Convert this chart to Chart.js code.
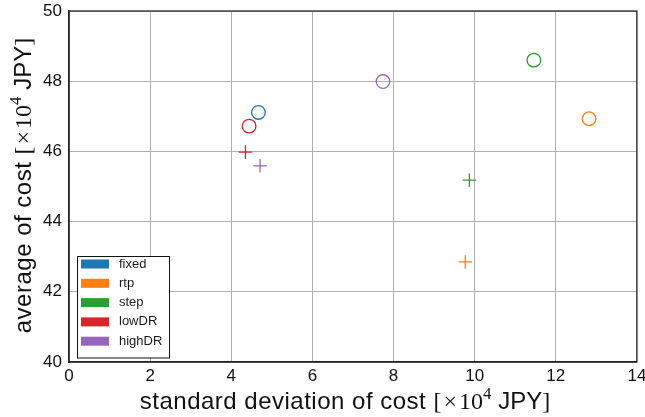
<!DOCTYPE html>
<html>
<head>
<meta charset="utf-8">
<script src="https://cdn.jsdelivr.net/npm/chart.js@4/dist/chart.umd.min.js"></script>
<style>
  html, body { margin: 0; padding: 0; background: #fff; }
  #wrap { width: 645px; height: 417px; }
</style>
</head>
<body>
<div id="wrap"><canvas id="riskCost"></canvas></div>
<script>
// values, in 10^4 JPY
var methods = ['fixed', 'rtp', 'step', 'lowDR', 'highDR'];
var colors = ['#1f77b4', '#ff7f0e', '#2ca02c', '#d62728', '#9467bd'];
var circleX = [4.67, 12.82, 11.46, 4.44, 7.74];
var circleY = [47.11, 46.93, 48.60, 46.72, 47.99];
var crossX = [null, 9.77, 9.87, 4.35, 4.71];
var crossY = [null, 42.85, 45.18, 45.98, 45.59];
var xTicks = [0, 2, 4, 6, 8, 10, 12, 14];
var yTicks = [40, 42, 44, 46, 48, 50];
var xLabel = 'standard deviation of cost';
var yLabel = 'average of cost';

var SANS = '"Liberation Sans", Arial, sans-serif';
var SERIF = '"Liberation Serif", "Times New Roman", serif';

var datasets = [];
for (var i in methods) {
    var pts = [{x: circleX[i], y: circleY[i]}];
    var styles = ['circle'];
    if (crossX[i] !== null) {
        pts.push({x: crossX[i], y: crossY[i]});
        styles.push('cross');
    }
    datasets.push({
        label: methods[i],
        data: pts,
        pointStyle: styles,
        pointRadius: 6.8,
        pointHoverRadius: 6.8,
        borderColor: colors[i],
        backgroundColor: 'rgba(0,0,0,0)',
        borderWidth: 1.3
    });
}

// axis label with the "[x10^4 JPY]" unit part set like mathtext
function unitParts(label) {
    return [
        {t: label + ' ', f: '24px ' + SANS, ls: 0.5},
        {t: '[', f: '24px ' + SERIF},
        {t: '×', f: '24px ' + SERIF, l: 2, r: 2},
        {t: '10', f: '24px ' + SERIF},
        {t: '4', f: '17px ' + SERIF, dy: -10},
        {t: ' JPY', f: '24px ' + SANS},
        {t: ']', f: '24px ' + SERIF}
    ];
}

function drawLabel(ctx, parts, cx, baseY, rot) {
    var total = 0;
    parts.forEach(function(p) {
        ctx.font = p.f;
        ctx.letterSpacing = (p.ls || 0) + 'px';
        p.w = ctx.measureText(p.t).width + (p.l || 0) + (p.r || 0);
        total += p.w;
    });
    ctx.save();
    ctx.translate(cx, baseY);
    ctx.rotate(rot);
    ctx.fillStyle = '#111';
    ctx.textBaseline = 'alphabetic';
    ctx.textAlign = 'left';
    var x = -total / 2;
    parts.forEach(function(p) {
        ctx.font = p.f;
        ctx.letterSpacing = (p.ls || 0) + 'px';
        ctx.fillText(p.t, x + (p.l || 0), p.dy || 0);
        x += p.w;
    });
    ctx.letterSpacing = '0px';
    ctx.restore();
}

// frame, axis labels and the legend box inside the axes
var boxLegend = {
    id: 'boxLegend',
    afterDraw: function(chart) {
        var ctx = chart.ctx;
        var a = chart.chartArea;
        ctx.save();
        ctx.strokeStyle = '#222';
        ctx.lineWidth = 1.25;
        ctx.strokeRect(a.left, a.top, a.right - a.left, a.bottom - a.top);

        drawLabel(ctx, unitParts(xLabel), (a.left + a.right) / 2 - 8, 409, 0);
        drawLabel(ctx, unitParts(yLabel), 31, (a.top + a.bottom) / 2 - 1, -Math.PI / 2);

        var x0 = a.left + 8, y0 = 256, w = 92, rowH = 19.3;
        var h = rowH * chart.data.datasets.length + 5;
        ctx.fillStyle = '#fff';
        ctx.fillRect(x0, y0, w, h);
        ctx.strokeStyle = '#111';
        ctx.lineWidth = 1;
        ctx.strokeRect(x0 + 0.5, y0 + 0.5, w, h);
        ctx.font = '13px ' + SANS;
        ctx.textBaseline = 'middle';
        chart.data.datasets.forEach(function(ds, k) {
            var cy = y0 + 8 + rowH * k;
            ctx.fillStyle = ds.borderColor;
            ctx.fillRect(x0 + 4, cy - 4.5, 28, 9);
            ctx.fillStyle = '#1a1a1a';
            ctx.fillText(ds.label, x0 + 42, cy);
        });
        ctx.restore();
    }
};

var ctx = document.getElementById('riskCost');
var chart = new Chart(ctx, {
    type: 'scatter',
    data: { datasets: datasets },
    plugins: [boxLegend],
    options: {
        responsive: true,
        maintainAspectRatio: false,
        animation: false,
        layout: { padding: { top: 11, right: 7, left: 0, bottom: 0 } },
        plugins: {
            legend: { display: false },
            tooltip: { enabled: false }
        },
        scales: {
            x: {
                type: 'linear',
                min: 0,
                max: 14,
                afterBuildTicks: function(scale) {
                    scale.ticks = xTicks.map(function(v) { return {value: v}; });
                },
                afterFit: function(scale) {
                    scale.height = 55;
                    scale.paddingLeft = 0;
                    scale.paddingRight = 0;
                },
                grid: { color: '#b0b0b0', lineWidth: 1, drawTicks: false },
                border: { color: '#222', width: 1.25 },
                ticks: {
                    padding: 4,
                    color: '#111',
                    font: { family: SANS, size: 17 }
                }
            },
            y: {
                type: 'linear',
                min: 40,
                max: 50,
                afterBuildTicks: function(scale) {
                    scale.ticks = yTicks.map(function(v) { return {value: v}; });
                },
                afterFit: function(scale) {
                    scale.width = 69;
                    scale.paddingTop = 0;
                    scale.paddingBottom = 0;
                },
                grid: { color: '#b0b0b0', lineWidth: 1, drawTicks: false },
                border: { color: '#222', width: 1.25 },
                ticks: {
                    padding: 7,
                    color: '#111',
                    font: { family: SANS, size: 17 }
                }
            }
        }
    }
});
</script>
</body>
</html>
